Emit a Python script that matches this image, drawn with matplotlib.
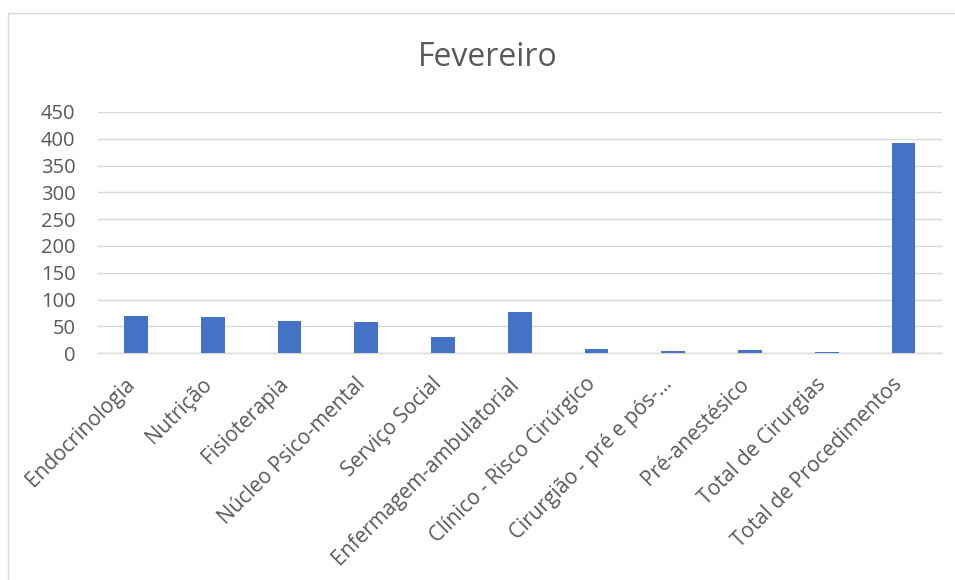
import matplotlib
matplotlib.use("Agg")
import matplotlib.pyplot as plt
from matplotlib.patches import Rectangle
from matplotlib.transforms import ScaledTranslation

categories = ["Endocrinologia", "Nutrição", "Fisioterapia", "Núcleo Psico-mental",
              "Serviço Social", "Enfermagem-ambulatorial", "Clínico - Risco Cirúrgico",
              "Cirurgião - pré e pós-...", "Pré-anestésico", "Total de Cirurgias",
              "Total de Procedimentos"]
values = [69, 67, 61, 59, 30, 77, 8, 4, 6, 3, 392]
yticks = [0, 50, 100, 150, 200, 250, 300, 350, 400, 450]

plt.rcParams['font.family'] = ['Open Sans', 'DejaVu Sans']
txt = '#595959'

fig = plt.figure(figsize=(9.55, 5.8), dpi=100)
ax = fig.add_axes([0.1022, 0.391, 0.884, 0.416])
x = list(range(len(categories)))
ax.bar(x, values, width=0.31, color='#4472C4', zorder=3)
ax.set_xlim(-0.5, len(categories) - 0.5)
ax.set_ylim(0, 450)
ax.set_yticks(yticks)
ax.set_yticklabels([str(v) for v in yticks], fontsize=14.5, color=txt)
ax.set_xticks(x)
ax.set_xticklabels(categories, rotation=45, ha='right', va='center',
                   rotation_mode='anchor', fontsize=15, color=txt)
ax.tick_params(axis='y', length=0, pad=16)
ax.tick_params(axis='x', length=0, pad=20)
offset = ScaledTranslation(-4 / 100, 0, fig.dpi_scale_trans)
for lab in ax.get_xticklabels():
    lab.set_transform(lab.get_transform() + offset)
ax.grid(axis='y', color='#d9d9d9', linewidth=1.0, zorder=0)
for s in ['top', 'right', 'left']:
    ax.spines[s].set_visible(False)
ax.spines['bottom'].set_color('#d9d9d9')
ax.spines['bottom'].set_linewidth(1.0)

fig.text(0.5105, 0.9, "Fevereiro", ha='center', va='center', fontsize=23, color=txt)

fig.patches.append(Rectangle((8 / 955, -0.01), 1.0, 1 - 13 / 580 + 0.01,
                             transform=fig.transFigure, fill=False,
                             edgecolor='#d9d9d9', linewidth=1.0))

fig.savefig("out.png", dpi=100)
